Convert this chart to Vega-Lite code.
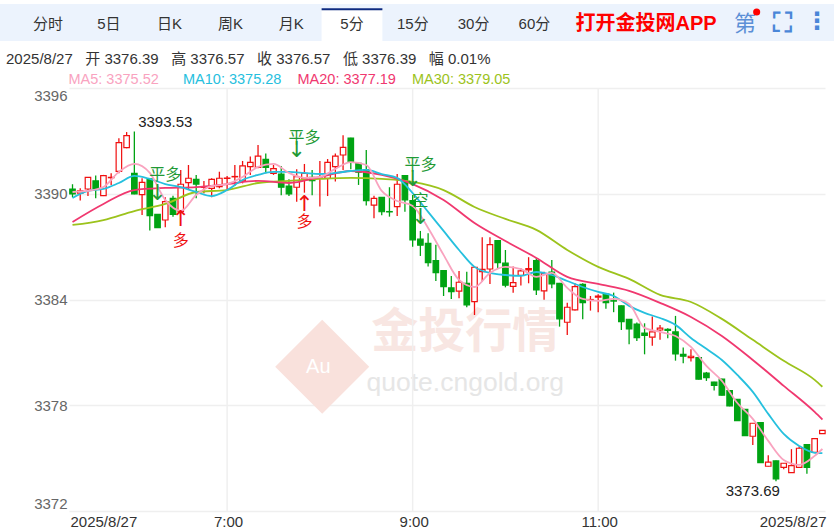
{"$schema":"https://vega.github.io/schema/vega-lite/v6.json","width":756,"height":423,"autosize":"none","padding":{"left":69,"top":88,"right":9,"bottom":18},"background":"white",
"config":{"font":"Liberation Sans, Noto Sans CJK SC","view":{"stroke":null}},
"datasets":{
"candles":[
{"t":"2025-08-27T05:20","open":3390.27,"high":3390.54,"low":3389.80,"close":3389.99},
{"t":"2025-08-27T05:25","open":3390.03,"high":3390.31,"low":3389.61,"close":3390.16},
{"t":"2025-08-27T05:30","open":3390.27,"high":3390.93,"low":3389.87,"close":3390.93},
{"t":"2025-08-27T05:35","open":3390.73,"high":3391.03,"low":3389.74,"close":3390.31},
{"t":"2025-08-27T05:40","open":3389.89,"high":3391.07,"low":3389.87,"close":3391.03},
{"t":"2025-08-27T05:45","open":3390.91,"high":3391.16,"low":3390.50,"close":3390.93},
{"t":"2025-08-27T05:50","open":3391.27,"high":3393.15,"low":3391.16,"close":3392.90},
{"t":"2025-08-27T05:55","open":3392.62,"high":3393.50,"low":3392.58,"close":3393.30},
{"t":"2025-08-27T06:00","open":3391.16,"high":3393.53,"low":3389.97,"close":3389.99},
{"t":"2025-08-27T06:05","open":3389.95,"high":3390.88,"low":3388.80,"close":3390.65},
{"t":"2025-08-27T06:10","open":3390.84,"high":3390.86,"low":3387.91,"close":3388.76},
{"t":"2025-08-27T06:15","open":3388.83,"high":3388.85,"low":3388.06,"close":3388.08},
{"t":"2025-08-27T06:20","open":3388.51,"high":3389.80,"low":3388.10,"close":3389.55},
{"t":"2025-08-27T06:25","open":3389.74,"high":3389.89,"low":3388.70,"close":3388.83},
{"t":"2025-08-27T06:30","open":3389.00,"high":3391.35,"low":3388.98,"close":3390.54},
{"t":"2025-08-27T06:35","open":3390.63,"high":3391.63,"low":3390.21,"close":3390.88},
{"t":"2025-08-27T06:40","open":3390.82,"high":3391.07,"low":3389.74,"close":3390.55},
{"t":"2025-08-27T06:45","open":3390.36,"high":3390.73,"low":3390.03,"close":3390.38},
{"t":"2025-08-27T06:50","open":3390.31,"high":3390.88,"low":3389.80,"close":3390.82},
{"t":"2025-08-27T06:55","open":3390.40,"high":3391.25,"low":3390.31,"close":3390.88},
{"t":"2025-08-27T07:00","open":3390.87,"high":3391.01,"low":3390.21,"close":3390.89},
{"t":"2025-08-27T07:05","open":3390.96,"high":3391.63,"low":3390.44,"close":3390.98},
{"t":"2025-08-27T07:10","open":3390.73,"high":3391.86,"low":3390.59,"close":3391.58},
{"t":"2025-08-27T07:15","open":3391.54,"high":3392.11,"low":3391.07,"close":3391.78},
{"t":"2025-08-27T07:20","open":3391.50,"high":3392.77,"low":3391.44,"close":3392.14},
{"t":"2025-08-27T07:25","open":3391.95,"high":3392.29,"low":3391.16,"close":3391.50},
{"t":"2025-08-27T07:30","open":3391.16,"high":3391.63,"low":3391.07,"close":3391.42},
{"t":"2025-08-27T07:35","open":3391.12,"high":3391.58,"low":3389.91,"close":3390.37},
{"t":"2025-08-27T07:40","open":3390.44,"high":3390.82,"low":3389.87,"close":3389.99},
{"t":"2025-08-27T07:45","open":3390.37,"high":3391.39,"low":3389.55,"close":3390.97},
{"t":"2025-08-27T07:50","open":3390.84,"high":3391.69,"low":3390.06,"close":3391.16},
{"t":"2025-08-27T07:55","open":3390.93,"high":3391.35,"low":3389.91,"close":3390.74},
{"t":"2025-08-27T08:00","open":3390.87,"high":3391.86,"low":3389.27,"close":3390.89},
{"t":"2025-08-27T08:05","open":3390.88,"high":3391.97,"low":3389.87,"close":3391.78},
{"t":"2025-08-27T08:10","open":3391.54,"high":3392.29,"low":3390.69,"close":3392.14},
{"t":"2025-08-27T08:15","open":3392.20,"high":3393.32,"low":3391.35,"close":3392.63},
{"t":"2025-08-27T08:20","open":3393.16,"high":3393.18,"low":3391.39,"close":3391.82},
{"t":"2025-08-27T08:25","open":3391.73,"high":3391.75,"low":3390.50,"close":3391.22},
{"t":"2025-08-27T08:30","open":3391.35,"high":3392.48,"low":3389.33,"close":3389.61},
{"t":"2025-08-27T08:35","open":3389.36,"high":3389.89,"low":3388.61,"close":3389.74},
{"t":"2025-08-27T08:40","open":3389.80,"high":3389.82,"low":3388.78,"close":3388.98},
{"t":"2025-08-27T08:45","open":3388.99,"high":3390.37,"low":3388.70,"close":3388.97},
{"t":"2025-08-27T08:50","open":3389.27,"high":3391.12,"low":3388.74,"close":3390.54},
{"t":"2025-08-27T08:55","open":3391.03,"high":3391.05,"low":3388.98,"close":3389.65},
{"t":"2025-08-27T09:00","open":3389.61,"high":3389.93,"low":3387.00,"close":3387.38},
{"t":"2025-08-27T09:05","open":3387.42,"high":3387.89,"low":3386.47,"close":3387.08},
{"t":"2025-08-27T09:10","open":3387.19,"high":3387.76,"low":3385.87,"close":3386.09},
{"t":"2025-08-27T09:15","open":3386.21,"high":3387.10,"low":3385.05,"close":3385.53},
{"t":"2025-08-27T09:20","open":3385.64,"high":3385.66,"low":3384.20,"close":3384.73},
{"t":"2025-08-27T09:25","open":3384.66,"high":3385.34,"low":3384.03,"close":3384.45},
{"t":"2025-08-27T09:30","open":3384.47,"high":3385.62,"low":3384.07,"close":3384.98},
{"t":"2025-08-27T09:35","open":3384.92,"high":3385.58,"low":3383.56,"close":3383.69},
{"t":"2025-08-27T09:40","open":3383.88,"high":3385.85,"low":3383.12,"close":3385.83},
{"t":"2025-08-27T09:45","open":3385.58,"high":3387.53,"low":3385.02,"close":3385.71},
{"t":"2025-08-27T09:50","open":3385.73,"high":3387.53,"low":3384.88,"close":3387.11},
{"t":"2025-08-27T09:55","open":3387.34,"high":3387.36,"low":3385.77,"close":3386.09},
{"t":"2025-08-27T10:00","open":3386.06,"high":3386.81,"low":3384.69,"close":3384.81},
{"t":"2025-08-27T10:05","open":3384.75,"high":3385.87,"low":3384.39,"close":3384.96},
{"t":"2025-08-27T10:10","open":3385.37,"high":3385.77,"low":3384.79,"close":3385.62},
{"t":"2025-08-27T10:15","open":3385.68,"high":3386.40,"low":3384.92,"close":3385.75},
{"t":"2025-08-27T10:20","open":3386.21,"high":3386.34,"low":3384.26,"close":3384.54},
{"t":"2025-08-27T10:25","open":3384.49,"high":3385.58,"low":3383.98,"close":3385.47},
{"t":"2025-08-27T10:30","open":3385.56,"high":3386.24,"low":3384.64,"close":3384.88},
{"t":"2025-08-27T10:35","open":3384.92,"high":3384.94,"low":3382.46,"close":3382.90},
{"t":"2025-08-27T10:40","open":3382.71,"high":3383.82,"low":3381.99,"close":3383.56},
{"t":"2025-08-27T10:45","open":3383.41,"high":3384.92,"low":3383.37,"close":3384.73},
{"t":"2025-08-27T10:50","open":3384.86,"high":3384.92,"low":3382.88,"close":3383.82},
{"t":"2025-08-27T10:55","open":3383.96,"high":3384.20,"low":3383.37,"close":3384.00},
{"t":"2025-08-27T11:00","open":3384.13,"high":3384.30,"low":3383.28,"close":3384.20},
{"t":"2025-08-27T11:05","open":3384.30,"high":3384.32,"low":3383.47,"close":3383.82},
{"t":"2025-08-27T11:10","open":3383.93,"high":3384.39,"low":3383.28,"close":3383.91},
{"t":"2025-08-27T11:15","open":3383.64,"high":3383.66,"low":3382.27,"close":3382.75},
{"t":"2025-08-27T11:20","open":3382.88,"high":3382.90,"low":3381.46,"close":3382.33},
{"t":"2025-08-27T11:25","open":3382.61,"high":3382.69,"low":3381.65,"close":3381.84},
{"t":"2025-08-27T11:30","open":3382.10,"high":3382.65,"low":3380.89,"close":3381.97},
{"t":"2025-08-27T11:35","open":3381.86,"high":3383.03,"low":3381.37,"close":3382.16},
{"t":"2025-08-27T11:40","open":3382.27,"high":3382.56,"low":3381.71,"close":3382.38},
{"t":"2025-08-27T11:45","open":3382.31,"high":3382.37,"low":3381.80,"close":3382.24},
{"t":"2025-08-27T11:50","open":3382.16,"high":3383.07,"low":3380.53,"close":3380.91},
{"t":"2025-08-27T11:55","open":3380.89,"high":3381.27,"low":3380.38,"close":3380.78},
{"t":"2025-08-27T12:00","open":3380.70,"high":3381.18,"low":3380.48,"close":3380.78},
{"t":"2025-08-27T12:05","open":3380.70,"high":3380.72,"low":3379.46,"close":3379.48},
{"t":"2025-08-27T12:10","open":3379.83,"high":3379.89,"low":3379.38,"close":3379.57},
{"t":"2025-08-27T12:15","open":3379.32,"high":3379.34,"low":3378.83,"close":3379.13},
{"t":"2025-08-27T12:20","open":3379.48,"high":3379.50,"low":3378.55,"close":3378.57},
{"t":"2025-08-27T12:25","open":3378.83,"high":3378.85,"low":3377.94,"close":3377.96},
{"t":"2025-08-27T12:30","open":3378.34,"high":3378.36,"low":3377.11,"close":3377.13},
{"t":"2025-08-27T12:35","open":3377.77,"high":3377.79,"low":3376.26,"close":3376.28},
{"t":"2025-08-27T12:40","open":3376.24,"high":3377.00,"low":3375.75,"close":3376.98},
{"t":"2025-08-27T12:45","open":3377.02,"high":3377.04,"low":3374.73,"close":3374.75},
{"t":"2025-08-27T12:50","open":3374.54,"high":3375.16,"low":3374.52,"close":3374.77},
{"t":"2025-08-27T12:55","open":3374.84,"high":3374.86,"low":3373.69,"close":3373.82},
{"t":"2025-08-27T13:00","open":3374.47,"high":3374.73,"low":3374.37,"close":3374.71},
{"t":"2025-08-27T13:05","open":3374.18,"high":3375.51,"low":3374.16,"close":3374.58},
{"t":"2025-08-27T13:10","open":3374.48,"high":3375.66,"low":3374.46,"close":3375.56},
{"t":"2025-08-27T13:15","open":3375.77,"high":3375.79,"low":3374.11,"close":3374.47},
{"t":"2025-08-27T13:20","open":3375.33,"high":3376.13,"low":3375.31,"close":3376.11},
{"t":"2025-08-27T13:25","open":3376.39,"high":3376.57,"low":3376.39,"close":3376.57}
],
"ma":[
{"series":"MA30","t":"2025-08-27T05:20","v":3388.23},{"series":"MA30","t":"2025-08-27T05:40","v":3388.51},{"series":"MA30","t":"2025-08-27T06:00","v":3389.02},{"series":"MA30","t":"2025-08-27T06:20","v":3389.42},{"series":"MA30","t":"2025-08-27T06:40","v":3390.10},{"series":"MA30","t":"2025-08-27T07:00","v":3390.21},{"series":"MA30","t":"2025-08-27T07:20","v":3390.61},{"series":"MA30","t":"2025-08-27T07:40","v":3390.73},{"series":"MA30","t":"2025-08-27T08:00","v":3390.84},{"series":"MA30","t":"2025-08-27T08:20","v":3390.90},{"series":"MA30","t":"2025-08-27T08:40","v":3390.84},{"series":"MA30","t":"2025-08-27T09:00","v":3390.67},{"series":"MA30","t":"2025-08-27T09:20","v":3390.21},{"series":"MA30","t":"2025-08-27T09:40","v":3389.25},{"series":"MA30","t":"2025-08-27T10:00","v":3388.57},{"series":"MA30","t":"2025-08-27T10:20","v":3387.95},{"series":"MA30","t":"2025-08-27T10:40","v":3386.81},{"series":"MA30","t":"2025-08-27T11:00","v":3385.85},{"series":"MA30","t":"2025-08-27T11:20","v":3385.17},{"series":"MA30","t":"2025-08-27T11:40","v":3384.26},{"series":"MA30","t":"2025-08-27T12:00","v":3383.86},{"series":"MA30","t":"2025-08-27T12:20","v":3382.90},{"series":"MA30","t":"2025-08-27T12:40","v":3381.71},{"series":"MA30","t":"2025-08-27T13:00","v":3380.52},{"series":"MA30","t":"2025-08-27T13:20","v":3379.44},{"series":"MA30","t":"2025-08-27T13:25","v":3379.05},
{"series":"MA20","t":"2025-08-27T05:20","v":3388.40},{"series":"MA20","t":"2025-08-27T05:40","v":3389.42},{"series":"MA20","t":"2025-08-27T06:00","v":3390.21},{"series":"MA20","t":"2025-08-27T06:20","v":3390.33},{"series":"MA20","t":"2025-08-27T06:40","v":3390.38},{"series":"MA20","t":"2025-08-27T07:00","v":3390.55},{"series":"MA20","t":"2025-08-27T07:20","v":3390.73},{"series":"MA20","t":"2025-08-27T07:40","v":3390.61},{"series":"MA20","t":"2025-08-27T08:00","v":3390.95},{"series":"MA20","t":"2025-08-27T08:20","v":3391.29},{"series":"MA20","t":"2025-08-27T08:40","v":3391.07},{"series":"MA20","t":"2025-08-27T09:00","v":3390.55},{"series":"MA20","t":"2025-08-27T09:20","v":3389.65},{"series":"MA20","t":"2025-08-27T09:40","v":3388.34},{"series":"MA20","t":"2025-08-27T10:00","v":3387.32},{"series":"MA20","t":"2025-08-27T10:20","v":3386.36},{"series":"MA20","t":"2025-08-27T10:40","v":3385.28},{"series":"MA20","t":"2025-08-27T11:00","v":3384.88},{"series":"MA20","t":"2025-08-27T11:20","v":3384.49},{"series":"MA20","t":"2025-08-27T11:40","v":3383.81},{"series":"MA20","t":"2025-08-27T12:00","v":3383.01},{"series":"MA20","t":"2025-08-27T12:20","v":3381.93},{"series":"MA20","t":"2025-08-27T12:40","v":3380.57},{"series":"MA20","t":"2025-08-27T13:00","v":3379.10},{"series":"MA20","t":"2025-08-27T13:20","v":3377.62},{"series":"MA20","t":"2025-08-27T13:25","v":3377.19},
{"series":"MA10","t":"2025-08-27T05:20","v":3389.76},{"series":"MA10","t":"2025-08-27T05:30","v":3390.16},{"series":"MA10","t":"2025-08-27T05:40","v":3390.27},{"series":"MA10","t":"2025-08-27T05:50","v":3390.61},{"series":"MA10","t":"2025-08-27T06:00","v":3391.01},{"series":"MA10","t":"2025-08-27T06:10","v":3390.84},{"series":"MA10","t":"2025-08-27T06:20","v":3390.55},{"series":"MA10","t":"2025-08-27T06:30","v":3390.38},{"series":"MA10","t":"2025-08-27T06:40","v":3390.10},{"series":"MA10","t":"2025-08-27T06:50","v":3389.87},{"series":"MA10","t":"2025-08-27T07:00","v":3390.21},{"series":"MA10","t":"2025-08-27T07:10","v":3390.78},{"series":"MA10","t":"2025-08-27T07:20","v":3391.07},{"series":"MA10","t":"2025-08-27T07:30","v":3391.24},{"series":"MA10","t":"2025-08-27T07:40","v":3391.24},{"series":"MA10","t":"2025-08-27T07:50","v":3391.18},{"series":"MA10","t":"2025-08-27T08:00","v":3391.12},{"series":"MA10","t":"2025-08-27T08:10","v":3391.18},{"series":"MA10","t":"2025-08-27T08:20","v":3391.29},{"series":"MA10","t":"2025-08-27T08:30","v":3391.35},{"series":"MA10","t":"2025-08-27T08:40","v":3391.12},{"series":"MA10","t":"2025-08-27T08:50","v":3390.90},{"series":"MA10","t":"2025-08-27T09:00","v":3390.04},{"series":"MA10","t":"2025-08-27T09:10","v":3388.97},{"series":"MA10","t":"2025-08-27T09:20","v":3387.89},{"series":"MA10","t":"2025-08-27T09:30","v":3386.81},{"series":"MA10","t":"2025-08-27T09:40","v":3385.85},{"series":"MA10","t":"2025-08-27T09:50","v":3385.51},{"series":"MA10","t":"2025-08-27T10:00","v":3385.39},{"series":"MA10","t":"2025-08-27T10:10","v":3385.34},{"series":"MA10","t":"2025-08-27T10:20","v":3385.56},{"series":"MA10","t":"2025-08-27T10:30","v":3385.39},{"series":"MA10","t":"2025-08-27T10:40","v":3385.05},{"series":"MA10","t":"2025-08-27T10:50","v":3384.71},{"series":"MA10","t":"2025-08-27T11:00","v":3384.43},{"series":"MA10","t":"2025-08-27T11:10","v":3384.20},{"series":"MA10","t":"2025-08-27T11:20","v":3383.64},{"series":"MA10","t":"2025-08-27T11:30","v":3383.24},{"series":"MA10","t":"2025-08-27T11:40","v":3382.95},{"series":"MA10","t":"2025-08-27T11:50","v":3382.56},{"series":"MA10","t":"2025-08-27T12:00","v":3381.82},{"series":"MA10","t":"2025-08-27T12:10","v":3381.20},{"series":"MA10","t":"2025-08-27T12:20","v":3380.57},{"series":"MA10","t":"2025-08-27T12:30","v":3379.72},{"series":"MA10","t":"2025-08-27T12:40","v":3378.76},{"series":"MA10","t":"2025-08-27T12:50","v":3377.51},{"series":"MA10","t":"2025-08-27T13:00","v":3376.37},{"series":"MA10","t":"2025-08-27T13:10","v":3375.69},{"series":"MA10","t":"2025-08-27T13:20","v":3375.30},{"series":"MA10","t":"2025-08-27T13:25","v":3375.28},
{"series":"MA5","t":"2025-08-27T05:20","v":3390.10},{"series":"MA5","t":"2025-08-27T05:30","v":3390.16},{"series":"MA5","t":"2025-08-27T05:40","v":3390.38},{"series":"MA5","t":"2025-08-27T05:50","v":3391.24},{"series":"MA5","t":"2025-08-27T06:00","v":3391.69},{"series":"MA5","t":"2025-08-27T06:10","v":3391.18},{"series":"MA5","t":"2025-08-27T06:20","v":3389.65},{"series":"MA5","t":"2025-08-27T06:30","v":3389.02},{"series":"MA5","t":"2025-08-27T06:40","v":3389.93},{"series":"MA5","t":"2025-08-27T06:50","v":3390.44},{"series":"MA5","t":"2025-08-27T07:00","v":3390.55},{"series":"MA5","t":"2025-08-27T07:10","v":3390.95},{"series":"MA5","t":"2025-08-27T07:20","v":3391.52},{"series":"MA5","t":"2025-08-27T07:30","v":3391.69},{"series":"MA5","t":"2025-08-27T07:40","v":3391.18},{"series":"MA5","t":"2025-08-27T07:50","v":3390.90},{"series":"MA5","t":"2025-08-27T08:00","v":3390.95},{"series":"MA5","t":"2025-08-27T08:10","v":3391.41},{"series":"MA5","t":"2025-08-27T08:20","v":3391.80},{"series":"MA5","t":"2025-08-27T08:30","v":3391.63},{"series":"MA5","t":"2025-08-27T08:40","v":3390.16},{"series":"MA5","t":"2025-08-27T08:50","v":3389.59},{"series":"MA5","t":"2025-08-27T09:00","v":3389.31},{"series":"MA5","t":"2025-08-27T09:10","v":3388.06},{"series":"MA5","t":"2025-08-27T09:20","v":3386.53},{"series":"MA5","t":"2025-08-27T09:30","v":3385.11},{"series":"MA5","t":"2025-08-27T09:40","v":3384.71},{"series":"MA5","t":"2025-08-27T09:50","v":3385.51},{"series":"MA5","t":"2025-08-27T10:00","v":3385.85},{"series":"MA5","t":"2025-08-27T10:10","v":3385.73},{"series":"MA5","t":"2025-08-27T10:20","v":3385.28},{"series":"MA5","t":"2025-08-27T10:30","v":3385.51},{"series":"MA5","t":"2025-08-27T10:40","v":3384.66},{"series":"MA5","t":"2025-08-27T10:50","v":3384.03},{"series":"MA5","t":"2025-08-27T11:00","v":3383.92},{"series":"MA5","t":"2025-08-27T11:10","v":3384.03},{"series":"MA5","t":"2025-08-27T11:20","v":3383.75},{"series":"MA5","t":"2025-08-27T11:30","v":3382.39},{"series":"MA5","t":"2025-08-27T11:40","v":3382.16},{"series":"MA5","t":"2025-08-27T11:50","v":3381.93},{"series":"MA5","t":"2025-08-27T12:00","v":3381.31},{"series":"MA5","t":"2025-08-27T12:10","v":3380.23},{"series":"MA5","t":"2025-08-27T12:20","v":3379.38},{"series":"MA5","t":"2025-08-27T12:30","v":3378.13},{"series":"MA5","t":"2025-08-27T12:40","v":3377.23},{"series":"MA5","t":"2025-08-27T12:50","v":3375.98},{"series":"MA5","t":"2025-08-27T13:00","v":3374.90},{"series":"MA5","t":"2025-08-27T13:10","v":3374.62},{"series":"MA5","t":"2025-08-27T13:20","v":3375.13},{"series":"MA5","t":"2025-08-27T13:25","v":3375.52}
],
"signals":[
{"t":"2025-08-27T06:20","price":3391.07,"label":"平多","side":"close"},
{"t":"2025-08-27T06:30","price":3387.32,"label":"多","side":"open"},
{"t":"2025-08-27T07:50","price":3393.16,"label":"平多","side":"close"},
{"t":"2025-08-27T07:50","price":3388.40,"label":"多","side":"open"},
{"t":"2025-08-27T09:05","price":3391.63,"label":"平多","side":"close"},
{"t":"2025-08-27T09:05","price":3389.59,"label":"空","side":"close"}
],
"arrows":[
{"t":"2025-08-27T06:15","price":3390.04,"label":"↓","side":"close"},
{"t":"2025-08-27T06:30","price":3388.57,"label":"↑","side":"open"},
{"t":"2025-08-27T07:45","price":3392.48,"label":"↓","side":"close"},
{"t":"2025-08-27T07:50","price":3389.42,"label":"↑","side":"open"},
{"t":"2025-08-27T09:00","price":3390.84,"label":"↓","side":"close"},
{"t":"2025-08-27T09:05","price":3388.68,"label":"↓","side":"close"}
],
"extremes":[
{"t":"2025-08-27T06:20","price":3394.07,"label":"3393.53"},
{"t":"2025-08-27T12:40","price":3373.14,"label":"3373.69"}
],
"hours":[{"t":"2025-08-27T07:00"},{"t":"2025-08-27T09:00"},{"t":"2025-08-27T11:00"}],
"tabs":[{"tab":"分时"},{"tab":"5日"},{"tab":"日K"},{"tab":"周K"},{"tab":"月K"},{"tab":"5分"},{"tab":"15分"},{"tab":"30分"},{"tab":"60分"}]
},
"layer":[
{"layer":[
{"data":{"values":[{"part":"toolbar"}]},"mark":{"type":"rect","fill":"#ecf3fd","stroke":null},"encoding":{
"x":{"datum":{"year":2025,"month":8,"date":27,"hours":4,"minutes":33},"type":"temporal","scale":{"domain":["2025-08-27T05:17:44","2025-08-27T13:26:42"],"padding":0},
"axis":{"title":null,"values":["2025-08-27T05:17:44","2025-08-27T07:00","2025-08-27T09:00","2025-08-27T11:00","2025-08-27T13:26:42"],"labelExpr":"hours(datum.value)==5||hours(datum.value)==13?'2025/8/27':timeFormat(datum.value,'%-H:%M')","labelFlush":true,"labelOverlap":false,"labelOffset":1,"grid":false,"ticks":false,"domain":false,"labelFontSize":15,"labelColor":"#333333","labelPadding":3}},
"x2":{"datum":{"year":2025,"month":8,"date":27,"hours":13,"minutes":33}},
"y":{"datum":3400.76,"type":"quantitative","scale":{"domain":[3372,3396]},
"axis":{"title":null,"values":[3372,3378,3384,3390,3396],"format":"d","labelFlush":true,"labelOverlap":false,"ticks":false,"domain":false,"grid":true,"gridColor":"#efefef","gridWidth":1.5,"labelFontSize":15,"labelColor":"#666666","labelPadding":2}},
"y2":{"datum":3398.67}}},
{"data":{"values":[{"part":"watermark logo"}]},"mark":{"type":"point","shape":"diamond","filled":true,"size":8836,"color":"#f9e1dc","opacity":1},"encoding":{"x":{"datum":{"year":2025,"month":8,"date":27,"hours":8,"minutes":1,"seconds":30},"type":"temporal"},"y":{"datum":3380.18,"type":"quantitative"}}},
{"data":{"values":[{"part":"watermark au"}]},"mark":{"type":"text","text":"Au","fontSize":20,"color":"#ffffff"},"encoding":{"x":{"datum":{"year":2025,"month":8,"date":27,"hours":7,"minutes":59},"type":"temporal"},"y":{"datum":3380.18,"type":"quantitative"}}},
{"data":{"values":[{"part":"watermark name"}]},"mark":{"type":"text","text":"金投行情","fontSize":47,"fontWeight":"bold","color":"#f8e6e2"},"encoding":{"x":{"datum":{"year":2025,"month":8,"date":27,"hours":9,"minutes":34},"type":"temporal"},"y":{"datum":3382.10,"type":"quantitative"}}},
{"data":{"values":[{"part":"watermark url"}]},"mark":{"type":"text","text":"quote.cngold.org","fontSize":26.5,"color":"#e6e6e6"},"encoding":{"x":{"datum":{"year":2025,"month":8,"date":27,"hours":9,"minutes":34},"type":"temporal"},"y":{"datum":3379.27,"type":"quantitative"}}},
{"data":{"name":"hours"},"mark":{"type":"rule","color":"#efefef","strokeWidth":1.5},"encoding":{"x":{"field":"t","type":"temporal"}}},
{"data":{"name":"candles"},"mark":{"type":"rule","strokeWidth":1.3},"encoding":{"x":{"field":"t","type":"temporal"},"y":{"field":"low","type":"quantitative"},"y2":{"field":"high"},"color":{"condition":{"test":"datum.close>=datum.open","value":"#f01010"},"value":"#00a313"}}},
{"data":{"name":"candles"},"mark":{"type":"bar","size":5.5,"strokeWidth":1.2},"encoding":{"x":{"field":"t","type":"temporal"},"y":{"field":"open","type":"quantitative"},"y2":{"field":"close"},"fill":{"condition":{"test":"datum.close>=datum.open","value":"#ffffff"},"value":"#00a313"},"stroke":{"condition":{"test":"datum.close>=datum.open","value":"#f01010"},"value":"#00a313"}}},
{"data":{"name":"ma"},"mark":{"type":"line","interpolate":"monotone","strokeWidth":1.8},"encoding":{"x":{"field":"t","type":"temporal"},"y":{"field":"v","type":"quantitative"},"color":{"field":"series","type":"nominal","sort":["MA5","MA10","MA20","MA30"],"scale":{"domain":["MA5","MA10","MA20","MA30"],"range":["#f9a3bf","#26c0de","#f0386f","#9cc31c"]},
"legend":{"title":null,"orient":"none","legendX":-15,"legendY":-15,"direction":"horizontal","columns":4,"gridAlign":"all","columnPadding":1.5,"symbolType":"stroke","symbolSize":0,"symbolOpacity":0,"symbolStrokeWidth":0,"labelOffset":0,"labelFontSize":14.5,"labelLimit":200,"labelExpr":"{'MA5':'MA5: 3375.52','MA10':'MA10: 3375.28','MA20':'MA20: 3377.19','MA30':'MA30: 3379.05'}[datum.label]","labelColor":{"expr":"{'MA5':'#f9a3bf','MA10':'#26c0de','MA20':'#f0386f','MA30':'#9cc31c'}[datum.value]"}}}}},
{"data":{"name":"signals"},"mark":{"type":"text","fontSize":16},"encoding":{"x":{"field":"t","type":"temporal"},"y":{"field":"price","type":"quantitative"},"text":{"field":"label"},"color":{"condition":{"test":"datum.side=='open'","value":"#f01010"},"value":"#1f9a35"}}},
{"data":{"name":"arrows"},"mark":{"type":"text","fontSize":22,"font":"DejaVu Sans"},"encoding":{"x":{"field":"t","type":"temporal"},"y":{"field":"price","type":"quantitative"},"text":{"field":"label"},"color":{"condition":{"test":"datum.side=='open'","value":"#f01010"},"value":"#1f9a35"}}},
{"data":{"name":"extremes"},"mark":{"type":"text","fontSize":15,"color":"#222222"},"encoding":{"x":{"field":"t","type":"temporal"},"y":{"field":"price","type":"quantitative"},"text":{"field":"label"}}},
{"data":{"values":[{"text":"2025/8/27\u00a0\u00a0\u00a0开 3376.39\u00a0\u00a0\u00a0高 3376.57\u00a0\u00a0\u00a0收 3376.57\u00a0\u00a0\u00a0低 3376.39\u00a0\u00a0\u00a0幅 0.01%"}]},"mark":{"type":"text","align":"left","fontSize":15,"color":"#333333"},"encoding":{"x":{"datum":{"year":2025,"month":8,"date":27,"hours":4,"minutes":37},"type":"temporal"},"y":{"datum":3397.64,"type":"quantitative"},"text":{"field":"text"}}},
{"data":{"values":[{"text":"打开金投网APP"}]},"mark":{"type":"text","fontSize":20,"fontWeight":"bold","color":"#ff0000"},"encoding":{"x":{"datum":{"year":2025,"month":8,"date":27,"hours":11,"minutes":31},"type":"temporal"},"y":{"datum":3399.63,"type":"quantitative"},"text":{"field":"text"}}},
{"data":{"values":[{"text":"第"}]},"mark":{"type":"text","fontSize":22,"color":"#5b8fd6"},"encoding":{"x":{"datum":{"year":2025,"month":8,"date":27,"hours":12,"minutes":35},"type":"temporal"},"y":{"datum":3399.63,"type":"quantitative"},"text":{"field":"text"}}},
{"data":{"values":[{"part":"badge"}]},"mark":{"type":"point","filled":true,"size":50,"color":"#ff0000","opacity":1},"encoding":{"x":{"datum":{"year":2025,"month":8,"date":27,"hours":12,"minutes":42,"seconds":30},"type":"temporal"},"y":{"datum":3400.31,"type":"quantitative"}}},
{"data":{"values":[{"text":"⛶"}]},"mark":{"type":"text","fontSize":27,"fontWeight":"bold","color":"#4a86d8","font":"DejaVu Sans"},"encoding":{"x":{"datum":{"year":2025,"month":8,"date":27,"hours":12,"minutes":59,"seconds":30},"type":"temporal"},"y":{"datum":3399.63,"type":"quantitative"},"text":{"field":"text"}}},
{"data":{"values":[{"text":"⋮"}]},"mark":{"type":"text","fontSize":24,"fontWeight":"bold","color":"#4a86d8","font":"DejaVu Sans"},"encoding":{"x":{"datum":{"year":2025,"month":8,"date":27,"hours":13,"minutes":21,"seconds":30},"type":"temporal"},"y":{"datum":3399.75,"type":"quantitative"},"text":{"field":"text"}}}
]},
{"data":{"name":"tabs"},"layer":[
{"transform":[{"filter":"datum.tab=='5分'"}],"mark":{"type":"rect","fill":"#ffffff"},"encoding":{
"x":{"field":"tab","type":"nominal","scale":{"type":"band","domain":["分时","5日","日K","周K","月K","5分","15分","30分","60分"],"range":[-51.4,495.8],"paddingInner":0,"paddingOuter":0},
"axis":{"title":null,"orient":"top","offset":55,"domain":false,"ticks":false,"labelAngle":0,"labelFontSize":15,"labelColor":"#333333","labelPadding":2,"zindex":1,"grid":false,"labelOverlap":false}},
"y":{"datum":3400.53,"type":"quantitative"},"y2":{"datum":3398.67}}},
{"transform":[{"filter":"datum.tab=='5分'"}],"mark":{"type":"rect","fill":"#0d2a80"},"encoding":{
"x":{"field":"tab","type":"nominal"},
"y":{"datum":3400.53,"type":"quantitative"},"y2":{"datum":3400.41}}}
]}
],
"resolve":{"scale":{"x":"independent"},"axis":{"x":"independent"}}
}
